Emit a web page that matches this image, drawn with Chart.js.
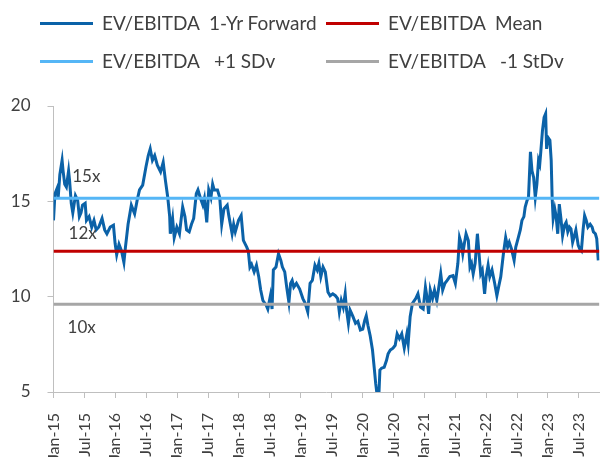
<!DOCTYPE html>
<html>
<head>
<meta charset="utf-8">
<script src="https://cdn.jsdelivr.net/npm/chart.js@4"></script>
<style>
  body { margin: 0; background: #fff; overflow: hidden; }
  #wrap { position: relative; width: 613px; height: 457px; }
  .leg { position: absolute; font: 19px Lato, sans-serif; color: #404040; white-space: pre; line-height: 22px; }
  .leg span { position: absolute; left: 0; top: 9px; width: 53px; height: 3px; }
  .leg b { font-weight: normal; position: absolute; left: 62px; top: -1px; }
</style>
</head>
<body>
<div id="wrap">
  <canvas id="chart" width="613" height="457"></canvas>
</div>
<script>
// months since Jan-15 and EV/EBITDA 1-yr forward readings
const months = [0,0.28,0.72,0.91,1.23,1.67,1.86,2.18,2.5,2.93,
  3.12,3.45,3.75,4.26,4.69,5.02,5.34,5.64,6.15,6.4,
  6.91,7.42,7.86,8.29,8.8,9.43,9.94,10.37,11.02,11.64,
  11.96,12.27,12.72,13.21,13.67,13.97,14.48,15.11,15.75,16.24,
  16.7,17.32,17.95,18.4,18.78,19.21,19.65,20.16,20.79,21.3,
  21.73,22.19,22.56,22.68,23.13,23.44,23.95,24.46,24.76,25.08,
  25.52,25.84,26.35,26.79,27.22,27.73,28.05,28.49,29.0,29.3,
  29.76,30.14,30.57,30.9,31.2,31.84,32.28,32.66,33.09,33.73,
  34.04,34.68,34.98,35.3,35.93,36.44,36.87,37.52,37.82,38.14,
  38.46,38.96,39.41,39.85,40.23,40.66,41.3,41.61,42.12,42.44,
  42.69,43.2,43.69,44.14,44.45,44.9,45.28,45.71,46.04,46.34,
  46.66,47.17,47.8,48.42,48.88,49.37,49.82,50.26,50.77,51.2,
  51.53,51.91,52.34,52.78,53.29,53.72,54.23,54.74,55.18,55.5,
  55.88,56.26,56.64,56.88,57.26,57.58,58.15,58.65,59.1,59.59,
  60.05,60.43,60.73,61.05,61.49,61.94,62.32,62.56,62.81,63.19,
  63.38,63.7,64.21,64.65,64.97,65.4,65.92,66.35,66.73,67.17,
  67.62,68.11,68.62,68.87,69.25,69.7,70.33,70.76,71.27,71.78,
  72.22,72.54,72.84,73.16,73.6,73.98,74.43,74.74,75.19,75.57,
  76.01,76.44,76.95,77.58,78.03,78.52,78.84,79.17,79.47,79.79,
  80.11,80.55,80.87,81.17,81.49,81.87,82.31,82.63,82.95,83.26,
  83.71,84.01,84.39,84.71,85.15,85.66,86.09,86.42,86.85,87.36,
  87.8,88.18,88.5,88.93,89.44,89.76,90.2,90.64,90.96,91.34,
  91.59,91.96,92.23,92.61,92.91,93.23,93.55,93.86,94.18,94.42,
  94.62,94.94,95.26,95.56,95.75,96.01,96.39,96.64,96.83,97.02,
  97.34,97.58,97.91,98.21,98.53,98.85,99.23,99.54,99.86,100.18,
  100.48,100.8,101.05,101.43,101.88,102.18,102.5,102.83,103.13,103.45,
  103.77,104.21,104.59,104.84,105.22,105.48,105.78];

const evEbitda = [14.0,15.4,15.7,15.2,16.4,17.15,16.6,15.9,15.75,16.6,
  16.1,14.9,14.4,15.3,15.05,14.2,14.4,14.8,14.9,14.0,
  14.2,13.65,14.0,13.5,13.65,14.1,13.5,13.3,13.65,13.75,
  12.8,12.2,12.75,12.4,11.8,12.6,13.8,14.8,14.35,15.05,
  15.6,15.85,16.8,17.4,17.75,17.15,17.4,16.9,16.55,17.05,
  16.1,15.2,14.2,13.3,14.1,13.1,13.65,13.3,14.0,14.7,
  14.2,13.5,13.4,13.8,14.1,15.4,15.6,15.2,14.8,15.15,
  13.9,15.6,15.2,15.9,15.6,15.6,15.2,13.8,14.6,14.8,
  14.25,13.3,13.8,13.4,14.0,14.25,12.95,12.6,12.4,11.55,
  11.7,11.3,11.65,11.05,10.35,9.8,9.55,9.35,10.05,9.35,
  11.4,11.55,12.25,11.9,11.55,11.3,10.5,9.7,10.7,10.85,
  10.5,10.7,10.4,9.9,9.65,9.2,10.7,10.85,11.65,11.4,
  11.75,11.05,11.55,11.3,10.25,10.05,10.15,10.05,9.9,9.2,
  9.8,9.45,10.15,9.35,8.6,9.3,8.95,8.6,8.7,8.25,
  8.3,8.75,9.0,8.5,7.95,7.2,6.15,5.45,4.9,4.9,
  6.15,6.25,6.3,6.65,7.0,7.2,7.3,7.45,8.05,7.8,
  8.05,7.3,8.05,7.55,8.95,9.65,9.9,10.15,9.45,9.35,
  10.5,9.95,9.1,10.35,9.9,10.35,9.8,10.35,11.2,10.35,
  10.7,10.85,11.05,11.1,10.7,11.75,13.1,12.8,12.25,12.8,
  13.3,12.95,11.55,11.75,11.2,11.75,13.3,12.25,11.2,11.4,
  10.15,11.05,11.65,11.05,11.4,10.7,10.05,10.5,11.05,12.25,
  13.1,12.6,12.85,12.5,11.9,12.6,13.05,13.5,14.0,14.2,
  14.7,15.05,15.2,17.6,16.6,16.25,15.2,15.9,17.15,16.95,
  17.6,18.7,19.4,19.6,17.75,18.35,18.2,17.15,15.15,14.1,
  14.6,14.25,13.3,14.85,14.1,13.2,13.75,13.9,13.4,13.65,
  13.55,12.85,13.1,13.5,12.7,12.5,12.4,13.5,14.25,14.0,
  13.65,13.8,13.65,13.4,13.3,13.05,11.9];

const meanVal = 12.38;
const plusSd = 15.16;
const minusSd = 9.6;
const xEnd = 106;

const seriesNames = ['EV/EBITDA  1-Yr Forward', 'EV/EBITDA  Mean', 'EV/EBITDA   +1 SDv', 'EV/EBITDA   -1 StDv'];
const seriesColors = ['#0b62a8', '#c00000', '#55b6f6', '#a6a6a6'];

// text labels next to the bands
const bandLabels = ['15x', '12x', '10x'];
const bandLabelX = [3.63, 2.93, 2.74];
const bandLabelY = [16.31, 13.3, 8.39];

// legend, two columns like the original
const legPos = [[40, 13], [326, 13], [40, 51], [326, 51]];
const wrap = document.getElementById('wrap');
seriesNames.forEach((name, i) => {
    const d = document.createElement('div');
    d.className = 'leg';
    d.style.left = legPos[i][0] + 'px';
    d.style.top = legPos[i][1] + 'px';
    d.innerHTML = '<span style="background:' + seriesColors[i] + '"></span><b>' + name + '</b>';
    wrap.appendChild(d);
});

function flat(v) {
    return [{ x: 0, y: v }, { x: xEnd, y: v }];
}

const mainData = months.map((m, i) => ({ x: m, y: evEbitda[i] }));

const bandText = {
    id: 'bandText',
    afterDatasetsDraw(chart) {
        const ctx = chart.ctx;
        const xs = chart.scales.x;
        const ys = chart.scales.y;
        ctx.save();
        ctx.font = '17px Lato';
        ctx.fillStyle = '#404040';
        ctx.textBaseline = 'middle';
        bandLabels.forEach((t, i) => {
            ctx.fillText(t, xs.getPixelForValue(bandLabelX[i]), ys.getPixelForValue(bandLabelY[i]));
        });
        ctx.restore();
    }
};

const axisGray = '#bfbfbf';

new Chart(document.getElementById('chart'), {
    type: 'line',
    data: {
        datasets: [{
            label: seriesNames[2],
            data: flat(plusSd),
            borderColor: seriesColors[2],
            borderWidth: 3,
            pointRadius: 0
        }, {
            label: seriesNames[3],
            data: flat(minusSd),
            borderColor: seriesColors[3],
            borderWidth: 3,
            pointRadius: 0
        }, {
            label: seriesNames[1],
            data: flat(meanVal),
            borderColor: seriesColors[1],
            borderWidth: 3,
            pointRadius: 0
        }, {
            label: seriesNames[0],
            data: mainData,
            borderColor: seriesColors[0],
            borderWidth: 3,
            pointRadius: 0,
            tension: 0
        }]
    },
    options: {
        responsive: false,
        animation: false,
        layout: { padding: { top: 106, left: 0, right: 0, bottom: 0 } },
        plugins: {
            legend: { display: false },
            tooltip: { enabled: false }
        },
        scales: {
            x: {
                type: 'linear',
                min: 0,
                max: xEnd,
                afterFit(s) { s.height = 65; },
                afterBuildTicks(s) { s.ticks = s.ticks.filter(t => t.value % 6 === 0); },
                border: { color: axisGray, width: 1 },
                grid: { drawOnChartArea: false, drawTicks: true, tickLength: 6, color: axisGray },
                ticks: {
                    stepSize: 6,
                    autoSkip: false,
                    minRotation: 90,
                    maxRotation: 90,
                    padding: 15,
                    color: '#404040',
                    font: { family: 'Lato', size: 16 },
                    callback: v => (v % 12 === 0 ? 'Jan-' : 'Jul-') + (15 + Math.floor(v / 12))
                }
            },
            y: {
                min: 5,
                max: 20,
                afterFit(s) { s.width = 53.5; },
                border: { color: axisGray, width: 1 },
                grid: { drawOnChartArea: false, drawTicks: true, tickLength: 6, color: axisGray },
                ticks: {
                    stepSize: 5,
                    padding: 17,
                    color: '#404040',
                    font: { family: 'Lato', size: 17 }
                }
            }
        }
    },
    plugins: [bandText]
});
</script>
</body>
</html>
